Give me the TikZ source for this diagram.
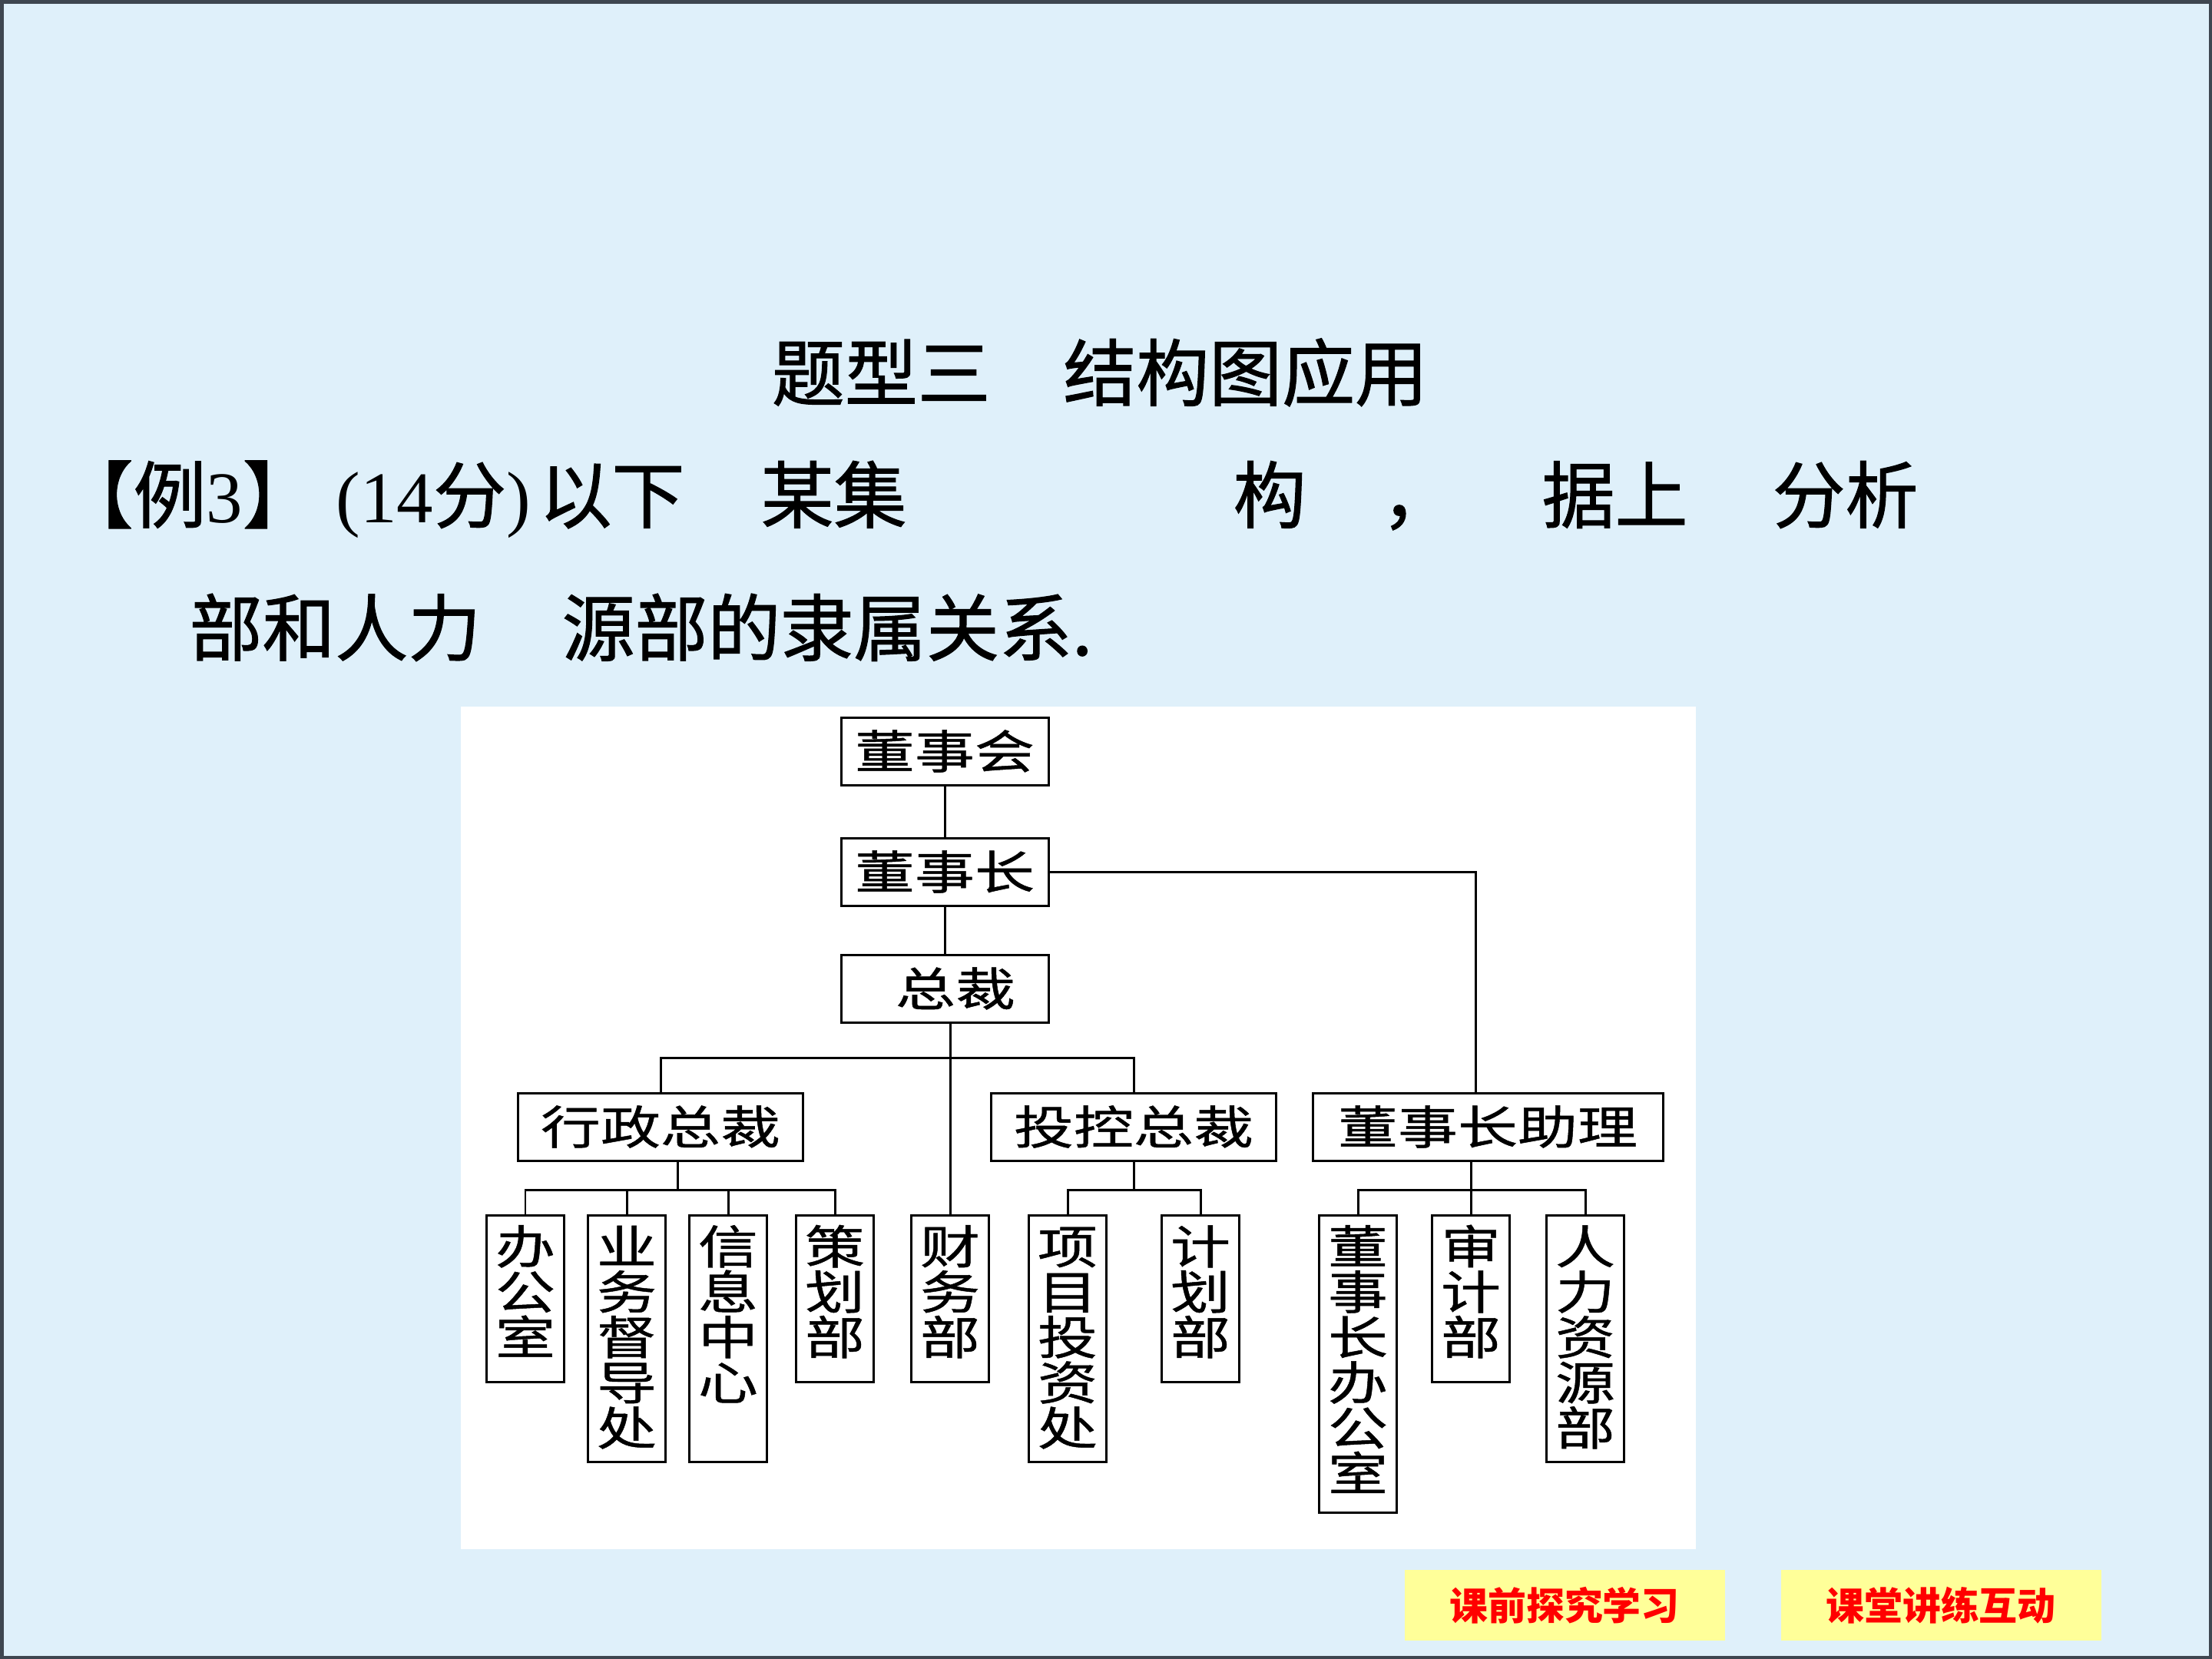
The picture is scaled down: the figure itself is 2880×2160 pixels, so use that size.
\documentclass[tikz,border=0pt]{standalone}
\usepackage{fontspec}
\setmainfont{Liberation Serif}
\newfontfamily\cjk[FakeBold=1.2]{Noto Sans CJK SC}
\newfontfamily\btnfont{Noto Sans CJK SC}
\newfontfamily\chartfont[FakeStretch=1.3, FakeBold=0.8]{Noto Sans CJK SC}
\definecolor{framegray}{RGB}{62,70,80}
\definecolor{slideblue}{RGB}{223,240,250}
\definecolor{btnyellow}{RGB}{255,255,153}
\tikzset{wire/.style={line width=0.85pt},
    body/.style={font=\cjk\fontsize{27pt}{30pt}\selectfont, anchor=base west, inner sep=0pt},
    hbox/.style={draw, line width=0.85pt, inner sep=0pt, minimum height=8.8mm,
        font=\chartfont\fontsize{17.07pt}{20pt}\selectfont},
    vbox/.style={draw, line width=0.85pt, inner sep=0pt, anchor=north, text width=8mm,
        align=center, minimum width=10.1mm, text height=6.3mm,
        font=\chartfont\fontsize{17.07pt}{16.8pt}\selectfont},
    v3/.style={vbox, text depth=15.4mm},
    v5/.style={vbox, text depth=25.8mm},
    v6/.style={vbox, text depth=32.4mm},
    btn/.style={fill=btnyellow, inner sep=0pt, minimum width=41.7mm, minimum height=9.2mm,
        text=red, font=\btnfont\bfseries\fontsize{14.2pt}{16pt}\selectfont},
    }

\begin{document}
\begin{tikzpicture}[x=0.1mm, y=-0.1mm]
\useasboundingbox (0,0) rectangle (2880,2160);
\fill[framegray] (0,0) rectangle (2880,2160);
\fill[slideblue] (5,5) rectangle (2876,2156);
\fill[white] (600,920) rectangle (2208,2017);

% heading and question
\node[font=\cjk\fontsize{27pt}{30pt}\selectfont, anchor=base, inner sep=0pt] (title) at (1432,521) {题型三　结构图应用};
\node[body] (q1) at (78,680) {【例{\rmfamily 3}】};
\node[body] (q2) at (437,680) {{\rmfamily (14}分{\rmfamily )}};
\node[body] (q3) at (701,680) {以下};
\node[body] (q4) at (990,680) {某集};
\node[body] (q5) at (1605,680) {构};
\node[body] (q6) at (1798,680) {，};
\node[body] (q7) at (2007,680) {据上};
\node[body] (q8) at (2307,680) {分析};
\node[body] (q9) at (246,853) {部和人力};
\node[body] (q10) at (731,853) {源部的隶属关系.};

% chart
\node[hbox, minimum width=27mm] (hui) at (1230,978) {董事会};
\node[hbox, minimum width=27mm] (zhang) at (1230,1135) {董事长};
\node[hbox, minimum width=27mm] (zong) at (1230,1287) {\hspace*{2.8mm}总裁};
\node[hbox, minimum width=37.1mm] (xingzheng) at (860,1467) {行政总裁};
\node[hbox, minimum width=37.1mm] (toukong) at (1476,1467) {投控总裁};
\node[hbox, minimum width=45.6mm] (zhuli) at (1937,1467) {董事长助理};

\node[v3] (bangong) at (684,1581) {办\\公\\室};
\node[v5] (yewu) at (816,1581) {业\\务\\督\\导\\处};
\node[v5] (xinxi) at (948,1581) {信\\息\\中\\心};
\node[v3] (cehua) at (1087,1581) {策\\划\\部};
\node[v3] (caiwu) at (1237,1581) {财\\务\\部};
\node[v5] (xiangmu) at (1390,1581) {项\\目\\投\\资\\处};
\node[v3] (jihua) at (1563,1581) {计\\划\\部};
\node[v6] (dongban) at (1768,1581) {董\\事\\长\\办\\公\\室};
\node[v3] (shenji) at (1915,1581) {审\\计\\部};
\node[v5] (renli) at (2064,1581) {人\\力\\资\\源\\部};

\coordinate (jtop) at (1237,1377);
\coordinate (ja) at (882,1549);
\coordinate (jb) at (1476,1549);
\coordinate (jc) at (1915,1549);

\draw[wire] (hui) -- (zhang);
\draw[wire] (zhang) -- (zong);
\draw[wire] (zhang.east) -| ([xshift=-1.6mm]zhuli.north);
\draw[wire] (zong.south -| caiwu.north) -- (caiwu.north);
\draw[wire] (xingzheng.north) |- (jtop) -| (toukong.north);
\draw[wire] (xingzheng.south -| ja) -- (ja);
\draw[wire] (bangong.north) |- (ja) -| (cehua.north);
\foreach \n in {yewu, xinxi}
    \draw[wire] (\n.north) -- (\n.north |- ja);
\draw[wire] (toukong.south) -- (jb);
\draw[wire] (xiangmu.north) |- (jb) -| (jihua.north);
\draw[wire] (zhuli.south -| shenji.north) -- (shenji.north);
\draw[wire] (dongban.north) |- (jc) -| (renli.north);

% navigation buttons
\node[btn] (qian) at (2037,2090) {课前探究学习};
\node[btn] (tang) at (2527,2090) {课堂讲练互动};
\end{tikzpicture}
\end{document}
